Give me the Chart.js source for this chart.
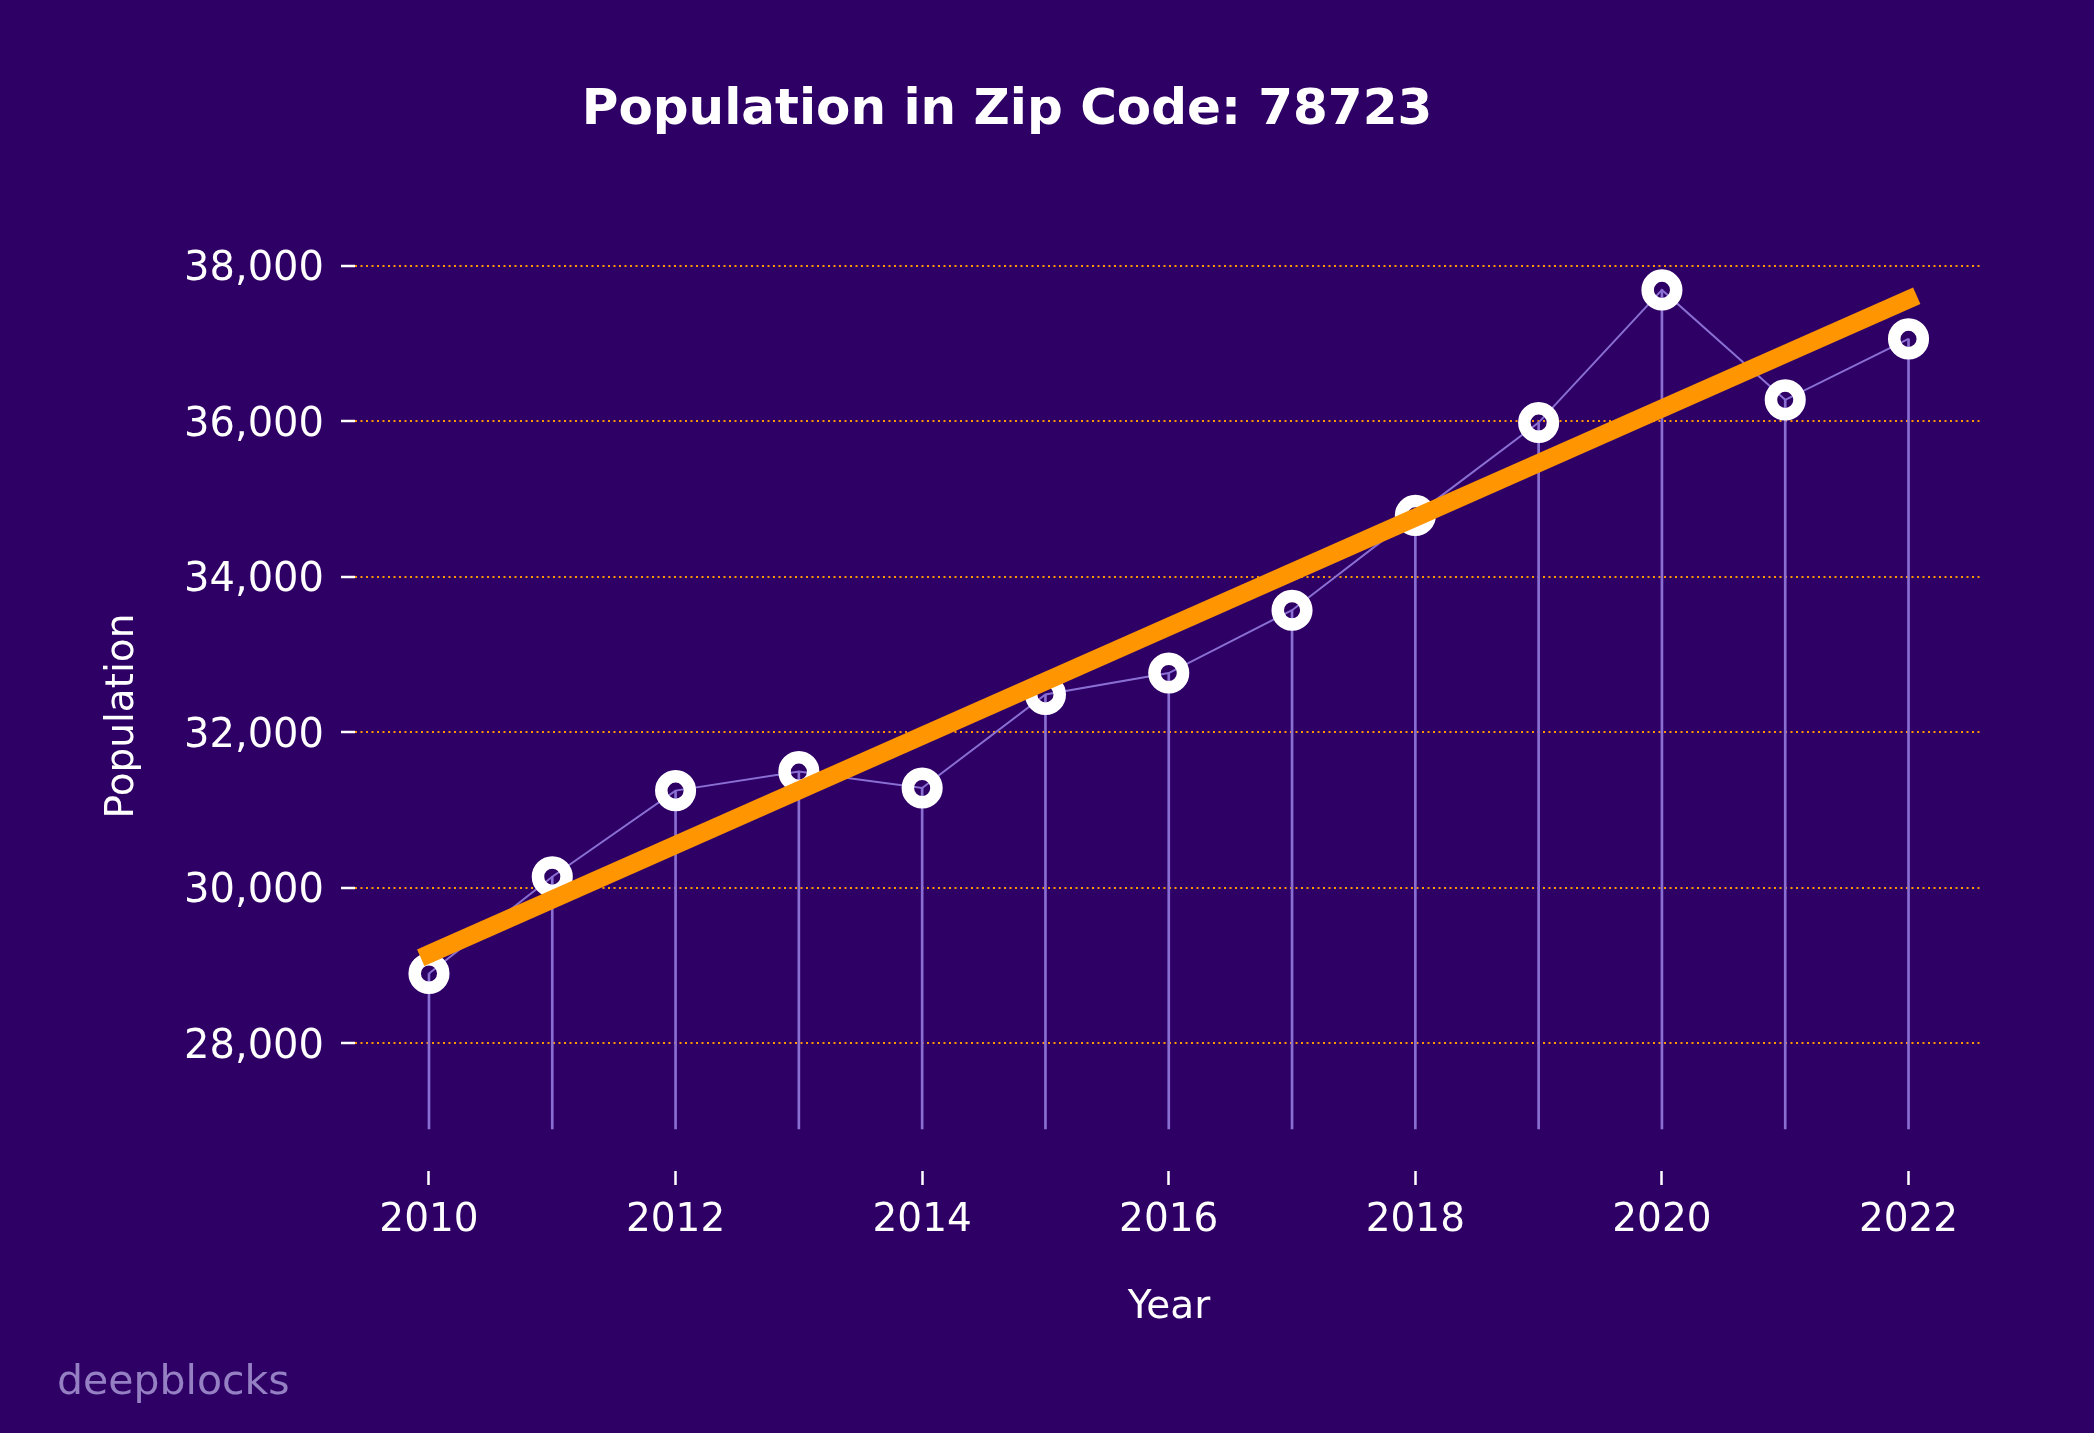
<!DOCTYPE html>
<html><head><meta charset="utf-8">
<script src="https://cdn.jsdelivr.net/npm/chart.js@4.4.1/dist/chart.umd.min.js"></script>
<style>html,body{margin:0;padding:0;background:#2e0066;overflow:hidden}</style>
</head><body>
<canvas id="c" width="2094" height="1433" style="width:2094px;height:1433px;display:block"></canvas>
<script>
// ---- data ----
const years = [2010, 2011, 2012, 2013, 2014, 2015, 2016, 2017, 2018, 2019, 2020, 2021, 2022];
const population = [28900, 30145, 31252, 31496, 31286, 32489, 32764, 33572, 34791, 35985, 37691, 36277, 37061];
const trendYears = [2010, 2022];
const trendValues = [29150, 37570];
const stemBase = 26900;
const xTicks = [2010, 2012, 2014, 2016, 2018, 2020, 2022];
const yTicks = [28000, 30000, 32000, 34000, 36000, 38000];
const titleText = 'Population in Zip Code: 78723';
const xTitle = 'Year';
const yTitle = 'Population';
const watermark = 'deepblocks';

const BG = '#2e0066';
const ORANGE = '#ff9500';
const LAV = '#8a6fd3';
const FONT = '"DejaVu Sans", sans-serif';

const bgPlugin = {
  id: 'bg',
  beforeDraw(chart) {
    const ctx = chart.ctx;
    ctx.save();
    ctx.fillStyle = BG;
    ctx.fillRect(0, 0, chart.width, chart.height);
    ctx.restore();
  },
  afterDraw(chart) {
    const ctx = chart.ctx;
    ctx.save();
    ctx.fillStyle = '#ffffff';
    ctx.font = 'bold 50px ' + FONT;
    ctx.textAlign = 'center';
    ctx.textBaseline = 'alphabetic';
    ctx.fillText(titleText, 1007, 124);
    ctx.font = '39px ' + FONT;
    ctx.fillText(xTitle, 1169, 1318);
    ctx.save();
    ctx.translate(132.5, 716);
    ctx.rotate(-Math.PI / 2);
    ctx.fillText(yTitle, 0, 0);
    ctx.restore();
    ctx.textAlign = 'left';
    ctx.fillStyle = '#9580c4';
    ctx.font = '41px ' + FONT;
    ctx.fillText(watermark, 57, 1394);
    ctx.restore();
  }
};

new Chart(document.getElementById('c'), {
  type: 'line',
  data: {
    datasets: [
      {
        type: 'line',
        label: 'trend',
        data: trendYears.map((x, i) => ({ x: x, y: trendValues[i] })),
        borderColor: ORANGE,
        borderWidth: 18,
        borderCapStyle: 'square',
        pointRadius: 0,
        fill: false,
        order: 0
      },
      {
        type: 'line',
        label: 'markers',
        data: years.map((x, i) => ({ x: x, y: population[i] })),
        showLine: false,
        pointRadius: 14.3,
        pointBorderWidth: 12.5,
        pointBorderColor: '#ffffff',
        pointBackgroundColor: 'rgba(0,0,0,0)',
        order: 1
      },
      {
        type: 'line',
        label: 'line',
        data: years.map((x, i) => ({ x: x, y: population[i] })),
        borderColor: LAV,
        borderWidth: 2,
        pointRadius: 0,
        fill: false,
        order: 2
      },
      {
        type: 'bar',
        label: 'stems',
        data: years.map((x, i) => ({ x: x, y: [stemBase, population[i]] })),
        backgroundColor: LAV,
        borderWidth: 0,
        barThickness: 2,
        grouped: false,
        order: 3
      }
    ]
  },
  options: {
    responsive: false,
    animation: false,
    devicePixelRatio: 1,
    layout: { padding: { left: 0, right: 111.5, top: 248, bottom: 0 } },
    plugins: { legend: { display: false }, tooltip: { enabled: false }, title: { display: false } },
    scales: {
      x: {
        type: 'linear',
        min: 2009.4,
        max: 2022.6,
        offset: false,
        afterBuildTicks(s) { s.ticks = xTicks.map(v => ({ value: v })); },
        afterFit(s) { s.height = 262; },
        grid: { drawOnChartArea: false, drawTicks: true, tickLength: 14, tickColor: '#ffffff', tickWidth: 2.5, offset: false },
        border: { display: false },
        ticks: { color: '#ffffff', font: { family: FONT, size: 39 }, padding: 12, maxRotation: 0, autoSkip: false, callback: v => String(v) }
      },
      y: {
        type: 'linear',
        min: 26360,
        max: 38230,
        afterBuildTicks(s) { s.ticks = yTicks.map(v => ({ value: v })); },
        afterFit(s) { s.width = 355; },
        grid: { color: ORANGE, lineWidth: 2, drawTicks: true, tickLength: 14, tickColor: '#ffffff', tickWidth: 2.5 },
        border: { display: false, dash: [2, 3.5] },
        ticks: { color: '#ffffff', font: { family: FONT, size: 40 }, padding: 17, labelOffset: 4, autoSkip: false, callback: v => v.toLocaleString('en-US') }
      }
    }
  },
  plugins: [bgPlugin]
});
</script>
</body></html>
